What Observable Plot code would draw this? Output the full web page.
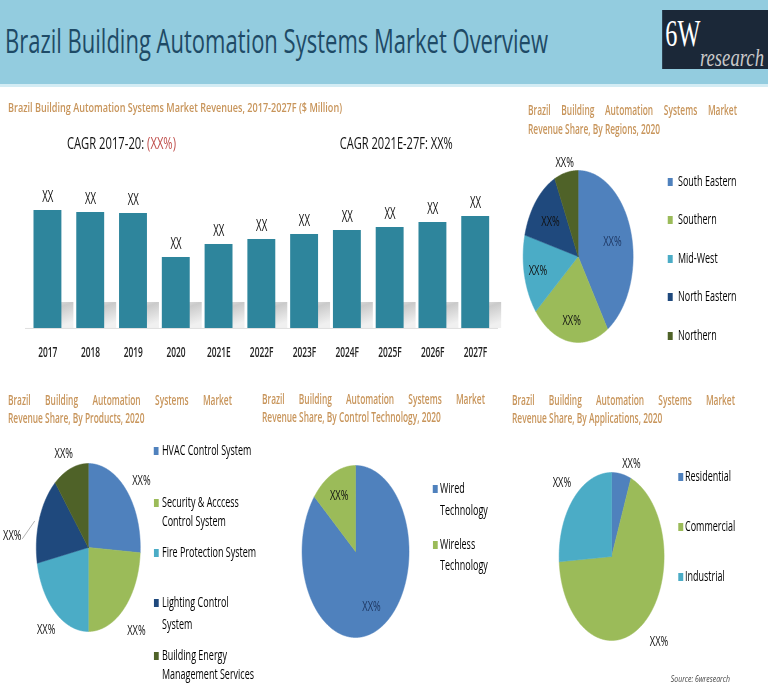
<!DOCTYPE html>
<html><head><meta charset="utf-8">
<script src="https://cdn.jsdelivr.net/npm/d3@7"></script>
<script src="https://cdn.jsdelivr.net/npm/@observablehq/plot@0.6"></script>
<style>
html,body{margin:0;padding:0;background:#fff;}
#page{position:relative;width:768px;height:691px;overflow:hidden;background:#fff;font-family:"Open Sans",sans-serif;}
#stage{position:absolute;left:0;top:0;width:1239px;height:691px;transform:scaleX(0.62);transform-origin:0 0;}
.t{position:absolute;white-space:nowrap;line-height:1;}
#stage svg{position:absolute;}
</style></head><body>
<svg width="0" height="0" style="position:absolute"><defs>
<linearGradient id="shadowGrad" x1="0" y1="0" x2="0.4" y2="1">
<stop offset="0" stop-color="#e8e8e8"/><stop offset="0.35" stop-color="#cacaca"/><stop offset="1" stop-color="#f0f0f0"/></linearGradient>
</defs></svg>
<div id="page"><div id="stage"></div></div>
<script>
const SX = 0.62;

// ---------- data ----------
const years = ["2017","2018","2019","2020","2021E","2022F","2023F","2024F","2025F","2026F","2027F"];
const revenues = [118,116,115,71,84,89,94,98,101,106,112];
const revenueLabels = ["XX","XX","XX","XX","XX","XX","XX","XX","XX","XX","XX"];

const regions = ["South Eastern","Southern","Mid-West","North Eastern","Northern"];
const regionShares = [41,23,15,14,7];

const products = ["HVAC Control System","Security & Acccess\nControl System","Fire Protection System","Lighting Control\nSystem","Building Energy\nManagement Services"];
const productShares = [26,24,22,17,11];

const technologies = ["Wired\nTechnology","Wireless\nTechnology"];
const technologyShares = [86,14];

const applications = ["Residential","Commercial","Industrial"];
const applicationShares = [6,68,26];

const shareLabel = "XX%";
const palette = ["#4F81BD","#9BBB59","#4BACC6","#1F497D","#4F6228"];

// ---------- helpers ----------
const stage = document.getElementById("stage");
function text(str, x, cy, fs, style = {}, fitW = null, html = false) {
  const el = document.createElement("div");
  el.className = "t";
  if (html) el.innerHTML = str; else el.textContent = str;
  Object.assign(el.style, {fontSize: fs + "px"}, style);
  el.style.left = (x / SX) + "px";
  el.style.top = (cy - 0.53 * fs) + "px";
  stage.appendChild(el);
  if (fitW) {
    const w = el.getBoundingClientRect().width;
    el.style.transformOrigin = "0 0";
    el.style.transform = `scaleX(${fitW / w})`;
  }
  return el;
}
function box(x, y, w, h, bg) {
  const el = document.createElement("div");
  Object.assign(el.style, {position: "absolute", left: (x / SX) + "px", top: y + "px", width: (w / SX) + "px", height: h + "px", background: bg});
  stage.appendChild(el);
  return el;
}
function place(svg, x, y) {
  svg.style.left = (x / SX) + "px";
  svg.style.top = y + "px";
  stage.appendChild(svg);
}
const orange = "#C8955B";
function pieTitle(line2, x, y1, y2, w) {
  text("Brazil Building Automation Systems Market", x, y1, 13.5, {color: orange, fontWeight: 600, whiteSpace: "normal", width: (w / SX) + "px", textAlign: "justify", textAlignLast: "justify"});
  text(line2, x, y2, 13.5, {color: orange, fontWeight: 600});
}
function legend(names, colors, sqX, txX, ys) {
  names.forEach((n, i) => {
    const lines = n.split("\n");
    box(sqX, ys[i][0] - 4.5, 5, 8, colors[i]);
    lines.forEach((ln, j) => text(ln, txX, ys[i][j], 14.5, {color: "#000", fontWeight: 500}));
  });
}

// ---------- header ----------
box(0, 0, 768, 84, "#93CCDF");
box(0, 84, 768, 3, "#d3ecf4");
text("Brazil Building Automation Systems Market Overview", 5, 41, 33, {color: "#1E4A66"}, 543);
box(662, 10, 110, 59, "#1B2838");
text("6W", 665, 34, 38, {color: "#fff", fontFamily: "'Liberation Serif',serif"}, 35);
text("research", 700, 58, 25, {color: "#c9c9c9", fontFamily: "'Liberation Serif',serif", fontStyle: "italic"}, 64);

// ---------- bar chart ----------
text("Brazil Building Automation Systems Market Revenues, 2017-2027F ($ Million)", 8, 108, 13, {color: orange, fontWeight: 600}, 334);
text('CAGR 2017-20: <span style="color:#C0504D">(XX%)</span>', 67, 143, 16, {color: "#111", fontWeight: 500}, 109, true);
text("CAGR 2021E-27F: XX%", 340, 143, 16, {color: "#111", fontWeight: 500}, 113);

const barData = years.map((y, i) => ({year: y, value: revenues[i], label: revenueLabels[i]}));
const bars = Plot.plot({
  width: 520 / SX, height: 215,
  marginLeft: 25 / SX, marginRight: 22 / SX, marginTop: 18, marginBottom: 37,
  x: {domain: years, paddingInner: 0.35, paddingOuter: 0.175, label: null, tickSize: 0, tickPadding: 19},
  y: {domain: [0, 160], axis: null},
  style: {fontFamily: "'Open Sans',sans-serif", fontSize: "13.5px", fontWeight: 600, color: "#222", background: "transparent", overflow: "visible"},
  marks: [
    Plot.barY(barData, {x: "year", y: d => 26, fill: "url(#shadowGrad)", dx: 12 / SX}),
    Plot.barY(barData, {x: "year", y: "value", fill: "#2E859C"}),
    Plot.ruleY([0], {stroke: "#d9d9d9", strokeWidth: 1}),
    Plot.text(barData, {x: "year", y: "value", text: "label", dy: -13, fontSize: 15.5, fontWeight: 500, fill: "#111"})
  ]
});
place(bars, 0, 150);

// ---------- pies ----------
function pie(values, colors, cfg) {
  const arcs = d3.pie().sort(null).value(d => d)(values);
  const marks = arcs.map((a, i) => {
    const n = Math.max(2, Math.ceil((a.endAngle - a.startAngle) / 0.01));
    const pts = [{x: 0, y: 0}];
    for (let k = 0; k <= n; k++) {
      const t = a.startAngle + (a.endAngle - a.startAngle) * k / n;
      pts.push({x: Math.sin(t), y: Math.cos(t)});
    }
    pts.push({x: 0, y: 0});
    return Plot.line(pts, {x: "x", y: "y", fill: colors[i], stroke: colors[i], strokeWidth: 0.6});
  });
  const deg = Math.PI / 180;
  const lab = arcs.map((a, i) => {
    const m = (a.startAngle + a.endAngle) / 2 + (cfg.shift[i] || 0) * deg;
    return {x: cfg.r[i] * Math.sin(m), y: cfg.r[i] * Math.cos(m), text: shareLabel, fill: cfg.fills[i]};
  });
  if (cfg.leader != null) {
    const a = arcs[cfg.leader];
    const m = (a.startAngle + a.endAngle) / 2;
    const lp = [{a: m - 15 * deg, r: 1.27}, {a: m - 3 * deg, r: 1.08}].map(p => ({x: p.r * Math.sin(p.a), y: p.r * Math.cos(p.a)}));
    marks.push(Plot.line(lp, {x: "x", y: "y", stroke: "#8a8a8a", strokeWidth: 0.8}));
  }
  marks.push(Plot.text(lab, {x: "x", y: "y", text: "text", fill: "fill", fontSize: 15, fontWeight: 500, textAnchor: "middle"}));
  const {cx, cy, rx, ry, hw, hh} = cfg;
  const p = Plot.plot({
    width: 2 * hw / SX, height: 2 * hh, margin: 0,
    x: {domain: [-hw / rx, hw / rx], axis: null},
    y: {domain: [-hh / ry, hh / ry], axis: null},
    color: {type: "identity"},
    style: {fontFamily: "'Open Sans',sans-serif", background: "transparent", overflow: "visible"},
    marks
  });
  place(p, cx - hw, cy - hh);
}

// Regions
pieTitle("Revenue Share, By Regions, 2020", 528, 111, 130, 209);
pie(regionShares, palette, {cx: 578, cy: 256, rx: 55, ry: 86, hw: 75, hh: 110,
  r: [0.65, 0.75, 0.75, 0.65, 1.12], shift: [0, 0, 0, 0, 0],
  fills: ["#1F3864", "#111", "#111", "#111", "#111"]});
legend(regions, palette, 668, 678, [[182], [220], [259], [297], [336]]);

// Products
pieTitle("Revenue Share, By Products, 2020", 8, 401, 419, 224);
pie(productShares, palette, {cx: 88, cy: 547, rx: 52, ry: 84, hw: 88, hh: 105,
  r: [1.3, 1.35, 1.27, 1.47, 1.22], shift: [5, 0, 0, -14, -3], leader: 3,
  fills: ["#111", "#111", "#111", "#111", "#111"]});
legend(products, palette, 154, 162, [[451], [503, 522], [553], [603, 625], [656, 675]]);

// Control technology
pieTitle("Revenue Share, By Control Technology, 2020", 262, 400, 418, 223);
pie(technologyShares, palette, {cx: 355.5, cy: 551, rx: 53.5, ry: 86, hw: 75, hh: 100,
  r: [0.7, 0.72], shift: [0, 0], fills: ["#1F3864", "#111"]});
legend(technologies, palette, 433, 440, [[489, 511], [545, 566]]);

// Applications
const appColors = [palette[0], palette[1], palette[2]];
pieTitle("Revenue Share, By Applications, 2020", 512, 401, 419, 223);
pie(applicationShares, appColors, {cx: 611.5, cy: 556, rx: 52.5, ry: 84, hw: 75, hh: 105,
  r: [1.17, 1.35, 1.3], shift: [8, -6, 0], fills: ["#111", "#111", "#111"]});
legend(applications, appColors, 678, 685, [[477], [527], [577]]);

text("Source: 6wresearch", 671, 679, 9, {color: "#444", fontStyle: "italic"}, 59);
</script>
</body></html>
